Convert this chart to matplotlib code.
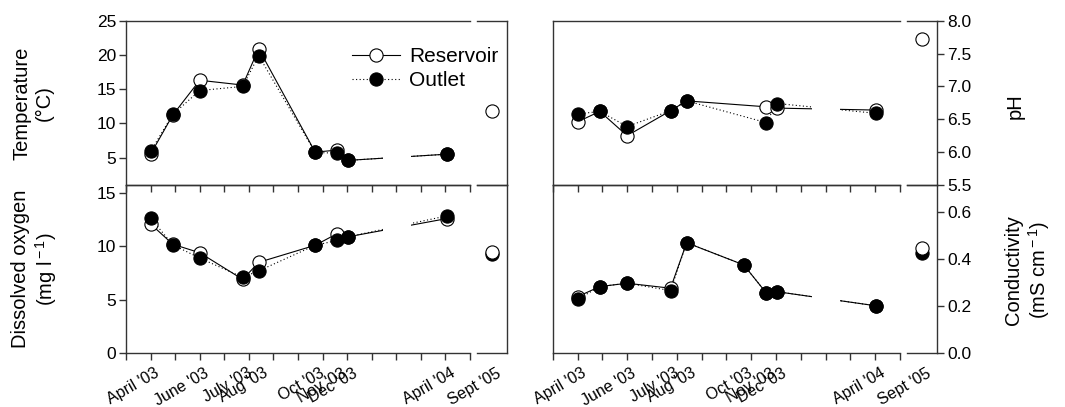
import matplotlib
matplotlib.use('Agg')
import matplotlib.pyplot as plt
from matplotlib.lines import Line2D
import matplotlib.transforms as mtransforms
import numpy as np

plt.rcParams['font.family'] = ['Liberation Sans', 'DejaVu Sans']
plt.rcParams['mathtext.fontset'] = 'custom'
plt.rcParams['mathtext.rm'] = 'Liberation Sans'
plt.rcParams['mathtext.it'] = 'Liberation Sans:italic'

# sampling dates as months since 1 March 2003
months = [1.0, 1.9, 3.0, 4.75, 5.4, 7.7, 8.6, 9.05, 13.05]
date_labels = ["April '03", "June '03", "July '03", "Aug '03",
               "Oct '03", "Nov '03", "Dec '03", "April '04"]
label_idx = [0, 2, 3, 4, 5, 6, 7, 8]
late_label = "Sept '05"

temp_res = [5.5, 11.2, 16.3, 15.6, 20.9, 5.8, 6.1, 4.6, 5.5]
temp_out = [5.9, 11.3, 14.8, 15.4, 19.9, 5.75, 5.65, 4.6, 5.5]
temp_late = (11.85, np.nan)

ph_res = [6.46, 6.62, 6.25, 6.63, 6.78, np.nan, 6.69, 6.67, 6.64]
ph_out = [6.58, 6.62, 6.39, 6.63, 6.78, np.nan, 6.45, 6.74, 6.59]
ph_late = (7.72, np.nan)

do_res = [12.1, 10.2, 9.4, 6.9, 8.5, 10.1, 11.2, 10.9, 12.6]
do_out = [12.65, 10.15, 8.9, 7.1, 7.7, 10.1, 10.55, 10.9, 12.85]
do_late = (9.5, 9.3)

cond_res = [0.239, 0.282, 0.296, 0.275, 0.468, 0.374, 0.256, 0.26, 0.2]
cond_out = [0.228, 0.282, 0.296, 0.265, 0.468, 0.374, 0.256, 0.26, 0.2]
cond_late = (0.444, 0.426)

W, H = 1065, 407
fig = plt.figure(figsize=(W / 100, H / 100), dpi=100)


def box(x0, x1, y0, y1):
    return [x0 / W, 1 - y1 / H, (x1 - x0) / W, (y1 - y0) / H]


SPINE = '#333333'
gap = (10.45, 11.6)  # break drawn in the Dec-April segment


def panel(ax, axb, res, out, late, ylim, yticks, fmt, side, bottom):
    x = np.array(months)
    series = ((res, '-', 'white'), (out, (0, (1, 2.2)), 'black'))
    for vals, ls, face in series:
        v = np.array(vals, dtype=float)
        ok = ~np.isnan(v)
        ax.plot(x[ok], v[ok], ls=ls, color='black', lw=0.8, zorder=2)
    ax.axvspan(*gap, ymin=0.08, ymax=0.92, color='white', lw=0, zorder=2.2)
    for vals, ls, face in series:
        v = np.array(vals, dtype=float)
        ok = ~np.isnan(v)
        ax.plot(x[ok], v[ok], ls='none', marker='o', ms=9.5, mfc=face,
                mec='black', mew=0.8, zorder=3)
    # late sample: outlet underneath, reservoir on top
    axb.plot([1], [late[1]], ls='none', marker='o', ms=9.5, mfc='black',
             mec='black', mew=0.8, zorder=3)
    axb.plot([1], [late[0]], ls='none', marker='o', ms=9.5, mfc='white',
             mec='black', mew=0.8, zorder=3)

    ax.set_xlim(0, 14)
    axb.set_xlim(0, 2)
    for a in (ax, axb):
        a.set_ylim(*ylim)
        a.patch.set_alpha(0)
        for s in a.spines.values():
            s.set_color(SPINE)
            s.set_linewidth(1.0)
    ax.spines['right'].set_visible(False)
    axb.spines['left'].set_visible(False)

    ax.set_xticks(range(15))
    ax.set_xticklabels([])
    axb.set_xticks([])
    ax.tick_params(axis='x', which='major', direction='out', length=5,
                   width=1.0, color=SPINE, top=False, bottom=True)
    if bottom:
        ax.xaxis.remove_overlapping_locs = False
        ax.set_xticks([months[i] for i in label_idx], minor=True)
        ax.set_xticklabels(date_labels, minor=True, rotation=30,
                           ha='right', va='top', rotation_mode='anchor',
                           fontsize=11.5)
        ax.tick_params(axis='x', which='minor', length=0, pad=9)
        axb.set_xticks([1], minor=True)
        axb.set_xticklabels([late_label], minor=True, rotation=30,
                            ha='right', va='top', rotation_mode='anchor',
                            fontsize=11.5)
        axb.tick_params(axis='x', which='minor', length=0, pad=9)
        shift = mtransforms.ScaledTranslation(4 / 100, 0, fig.dpi_scale_trans)
        for a in (ax, axb):
            for lab in a.get_xticklabels(minor=True):
                lab.set_transform(lab.get_transform() + shift)

    if side == 'left':
        ax.set_yticks(yticks)
        ax.set_yticklabels([fmt.format(t) for t in yticks], fontsize=12.5)
        ax.tick_params(axis='y', direction='out', length=5, width=1.0,
                       color=SPINE, pad=2)
        axb.set_yticks([])
    else:
        ax.set_yticks([])
        axb.yaxis.tick_right()
        axb.set_yticks(yticks)
        axb.set_yticklabels([fmt.format(t) for t in yticks], fontsize=12.5)
        axb.tick_params(axis='y', direction='out', length=5, width=1.0,
                        color=SPINE, pad=2)


rows = [(20.7, 185), (185, 353)]
cols = [((126, 470), (477, 507)), ((552.7, 900), (906.7, 937.3))]

ax_t = fig.add_axes(box(*cols[0][0], *rows[0]))
axb_t = fig.add_axes(box(*cols[0][1], *rows[0]))
ax_p = fig.add_axes(box(*cols[1][0], *rows[0]))
axb_p = fig.add_axes(box(*cols[1][1], *rows[0]))
ax_d = fig.add_axes(box(*cols[0][0], *rows[1]))
axb_d = fig.add_axes(box(*cols[0][1], *rows[1]))
ax_c = fig.add_axes(box(*cols[1][0], *rows[1]))
axb_c = fig.add_axes(box(*cols[1][1], *rows[1]))

panel(ax_t, axb_t, temp_res, temp_out, temp_late, (1, 25),
      [5, 10, 15, 20, 25], '{:g}', 'left', False)
panel(ax_p, axb_p, ph_res, ph_out, ph_late, (5.5, 8.0),
      [5.5, 6.0, 6.5, 7.0, 7.5, 8.0], '{:.1f}', 'right', False)
panel(ax_d, axb_d, do_res, do_out, do_late, (0, 15.75),
      [0, 5, 10, 15], '{:g}', 'left', True)
panel(ax_c, axb_c, cond_res, cond_out, cond_late, (0, 0.713),
      [0.0, 0.2, 0.4, 0.6], '{:.1f}', 'right', True)

fig.text(33 / W, 1 - 103 / H, 'Temperature\n(°C)', rotation=90,
         ha='center', va='center', multialignment='center', fontsize=14.5)
fig.text(35 / W, 1 - 269 / H, 'Dissolved oxygen\n(mg l$^{\\rm -1}$)',
         rotation=90, ha='center', va='center', multialignment='center',
         fontsize=14.5)
fig.text(1015 / W, 1 - 106 / H, 'pH', rotation=90,
         ha='center', va='center', fontsize=14.5)
fig.text(1028 / W, 1 - 270 / H, 'Conductivity\n(mS cm$^{\\rm -1}$)',
         rotation=90, ha='center', va='center', multialignment='center',
         fontsize=14.5)

handles = [
    Line2D([], [], ls='-', color='black', lw=0.8, marker='o', ms=9.5,
           mfc='white', mec='black', mew=0.8),
    Line2D([], [], ls=(0, (1, 2.2)), color='black', lw=0.8, marker='o',
           ms=9.5, mfc='black', mec='black', mew=0.8),
]
fig.legend(handles, ['Reservoir', 'Outlet'], loc='upper left',
           bbox_to_anchor=(351.7 / W, 1 - 47 / H), frameon=False,
           fontsize=15, borderaxespad=0, borderpad=0, handlelength=2.3,
           handletextpad=0.45, labelspacing=0.25)

fig.savefig('out.png', dpi=100)
